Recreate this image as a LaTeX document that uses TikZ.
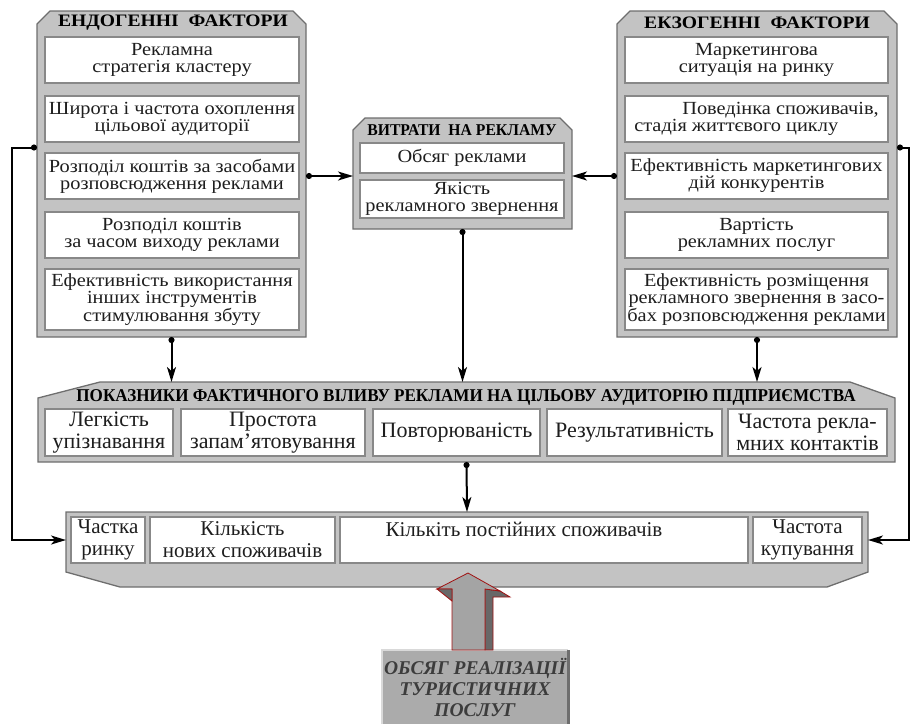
\documentclass[tikz,border=0pt]{standalone}
\usepackage{fontspec}
\setmainfont{Liberation Serif}
\newfontfamily\panelfont{Liberation Serif}[FakeStretch=1.1]
\newfontfamily\headfont{Liberation Serif}[FakeStretch=1.12]
\newfontfamily\bandheadfont{Liberation Serif}[FakeStretch=0.95]
\usetikzlibrary{arrows.meta,calc}

\definecolor{panelgray}{HTML}{C3C3C3}
\definecolor{rimgray}{HTML}{6E6E6E}
\definecolor{boxrim}{HTML}{888888}
\definecolor{inkgray}{HTML}{1E1E1E}
\definecolor{volgray}{HTML}{ABABAB}
\definecolor{voltext}{HTML}{3C3C3C}
\definecolor{arrowface}{HTML}{A4A4A4}
\definecolor{arrowside}{HTML}{686868}
\definecolor{arrowred}{HTML}{A01212}

\tikzset{
  frame/.style={inner sep=0pt, outer sep=0pt},
  panel/.style={draw=rimgray, line width=1.3pt, fill=panelgray},
  factor/.style={draw=boxrim, line width=1.4pt, fill=white, inner sep=0pt,
    text=inkgray, align=center, font=\panelfont\fontsize{18.5}{17}\selectfont},
  measure/.style={factor, font=\fontsize{22}{22}\selectfont},
  head/.style={inner sep=0pt, font=\headfont\bfseries\fontsize{17.5}{17.5}\selectfont},
  link/.style={line width=2pt, -{Stealth[length=15pt,width=9pt,inset=4pt]}},
  dotlink/.style={line width=2pt, {Circle[length=6pt]}-{Stealth[length=15pt,width=9pt,inset=4pt]}},
}

\begin{document}
\begin{tikzpicture}[x=1pt,y=-1pt]
\useasboundingbox (0,0) rectangle (912,724);

% endogenous factors
\node[frame, minimum width=269pt, minimum height=326pt] (endo) at (171.5,174) {};
\draw[panel] (endo.south west) -- (37,24) -- (50,11) -- (293,11) -- (306,24) -- (endo.south east) -- cycle;
\node[head] (endohead) at (173,23) {ЕНДОГЕННІ\ \ ФАКТОРИ};
\node[factor, minimum width=254pt, minimum height=46pt] (e1) at (172,60) {Рекламна\\стратегія кластеру};
\node[factor, minimum width=254pt, minimum height=46pt] (e2) at (172,119) {Широта і частота охоплення\\цільової аудиторії};
\node[factor, minimum width=254pt, minimum height=46pt] (e3) at (172,176) {Розподіл коштів за засобами\\розповсюдження реклами};
\node[factor, minimum width=254pt, minimum height=46pt] (e4) at (172,235) {Розподіл коштів\\за часом виходу реклами};
\node[factor, minimum width=254pt, minimum height=61pt] (e5) at (172,299.5) {Ефективність використання\\інших інструментів\\стимулювання збуту};

% exogenous factors
\node[frame, minimum width=280pt, minimum height=326pt] (exo) at (757,174) {};
\draw[panel] (exo.south west) -- (617,24) -- (630,11) -- (884,11) -- (897,24) -- (exo.south east) -- cycle;
\node[head] (exohead) at (757,23) {ЕКЗОГЕННІ\ \ ФАКТОРИ};
\node[factor, minimum width=263pt, minimum height=46pt] (x1) at (756.5,60) {Маркетингова\\ситуація на ринку};
\node[factor, minimum width=263pt, minimum height=46pt, align=left] (x2) at (756.5,119) {\hspace*{48pt}Поведінка споживачів,\\стадія життєвого циклу};
\node[factor, minimum width=263pt, minimum height=46pt] (x3) at (756.5,176) {Ефективність маркетингових\\дій конкурентів};
\node[factor, minimum width=263pt, minimum height=46pt] (x4) at (756.5,235) {Вартість\\рекламних послуг};
\node[factor, minimum width=263pt, minimum height=61pt] (x5) at (756.5,299.5) {Ефективність розміщення\\рекламного звернення в засо-\\бах розповсюдження реклами};

% advertising costs
\node[frame, minimum width=219pt, minimum height=111pt] (cost) at (462.5,173.5) {};
\draw[panel] (cost.south west) -- (353,130) -- (365,118) -- (560,118) -- (572,130) -- (cost.south east) -- cycle;
\node[head, font=\bandheadfont\bfseries\fontsize{16.5}{16.5}\selectfont] (costhead) at (462,130) {ВИТРАТИ\ \ НА РЕКЛАМУ};
\node[factor, minimum width=204pt, minimum height=30pt] (c1) at (462,158) {Обсяг реклами};
\node[factor, minimum width=204pt, minimum height=38pt] (c2) at (462,199) {Якість\\рекламного звернення};

% actual impact indicators
\node[frame, minimum width=857pt, minimum height=80pt] (impact) at (466.5,422) {};
\draw[panel] (impact.south west) -- (38,398) -- (100,382) -- (850,382) -- (895,398) -- (impact.south east) -- cycle;
\node[head, font=\bandheadfont\bfseries\fontsize{18}{18}\selectfont] (impacthead) at (466,397) {ПОКАЗНИКИ ФАКТИЧНОГО ВІЛИВУ РЕКЛАМИ НА ЦІЛЬОВУ АУДИТОРІЮ ПІДПРИЄМСТВА};
\node[measure, minimum width=128pt, minimum height=47pt] (i1) at (109,432.5) {Легкість\\упізнавання};
\node[measure, minimum width=184pt, minimum height=47pt] (i2) at (273,432.5) {Простота\\запам'ятовування};
\node[measure, minimum width=167pt, minimum height=47pt] (i3) at (456.5,432.5) {Повторюваність};
\node[measure, minimum width=175pt, minimum height=47pt] (i4) at (634.5,432.5) {Результативність};
\node[measure, minimum width=159pt, minimum height=47pt] (i5) at (807.5,432.5) {Частота рекла-\\мних контактів};

% results
\node[frame, minimum width=802pt, minimum height=60pt] (result) at (467,542) {};
\draw[panel] (result.north west) -- (result.north east) -- (result.south east) -- (827,587) -- (120,587) -- (result.south west) -- cycle;
\node[measure, minimum width=74pt, minimum height=46pt, font=\fontsize{21}{22}\selectfont] (r1) at (108,540) {Частка\\ринку};
\node[measure, minimum width=185pt, minimum height=46pt, font=\fontsize{21}{22}\selectfont] (r2) at (242.5,540) {Кількість\\нових споживачів};
\node[measure, minimum width=408pt, minimum height=46pt, font=\fontsize{21}{22}\selectfont] (r3) at (544,540) {Кількіть постійних споживачів\hspace*{40pt}\\~};
\node[measure, minimum width=109pt, minimum height=46pt, font=\fontsize{21}{22}\selectfont] (r4) at (807.5,540) {Частота\\купування};

% sales volume
\node[frame, minimum width=186pt, minimum height=74pt, fill=volgray, align=center,
  text=voltext, font=\bfseries\itshape\fontsize{19.5}{21}\selectfont] (volume) at (475,687) {ОБСЯГ РЕАЛІЗАЦІЇ\\ТУРИСТИЧНИХ\\ПОСЛУГ};
\draw[white!85!black, line width=2pt] (volume.south west) -- (volume.north west) -- (volume.north east);
\draw[rimgray, line width=3pt] (volume.north east) -- (volume.south east);
\begin{scope}[shift={(volume.north)}, draw=arrowred, line width=0.8pt]
  \filldraw[fill=arrowside] (10,-61) -- (25,-59) -- (35,-53) -- (18,-53) -- (18,0) -- (10,0) -- cycle;
  \filldraw[fill=arrowface] (-7,-77) -- (-38,-61) -- (-23,-61) -- (-23,0) -- (10,0) -- (10,-61) -- (25,-59) -- cycle;
  \filldraw[fill=arrowside] (-38,-61) -- (-23,-61) -- (-23,-49) -- cycle;
\end{scope}

% connectors
\coordinate (leftrail) at (12,300);
\coordinate (rightrail) at (909,300);
\coordinate (gapL) at ($(e2.south)!.5!(e3.north)$);
\coordinate (gapR) at ($(x2.south)!.5!(x3.north)$);
\draw[dotlink] (endo.west |- gapL) -| (leftrail) |- (r1 -| result.west);
\draw[dotlink] (exo.east |- gapR) -| (rightrail) |- (r4 -| result.east);
\draw[dotlink] (endo.east |- e3) -- (cost.west |- e3);
\draw[dotlink] (exo.west |- x3) -- (cost.east |- x3);
\draw[dotlink] (endo.south) -- (impact.north -| endo.south);
\draw[dotlink] (cost.south) -- (impact.north -| cost.south);
\draw[dotlink] (exo.south) -- (impact.north -| exo.south);
\draw[dotlink] (impact.south) -- (result.north);
\end{tikzpicture}
\end{document}
